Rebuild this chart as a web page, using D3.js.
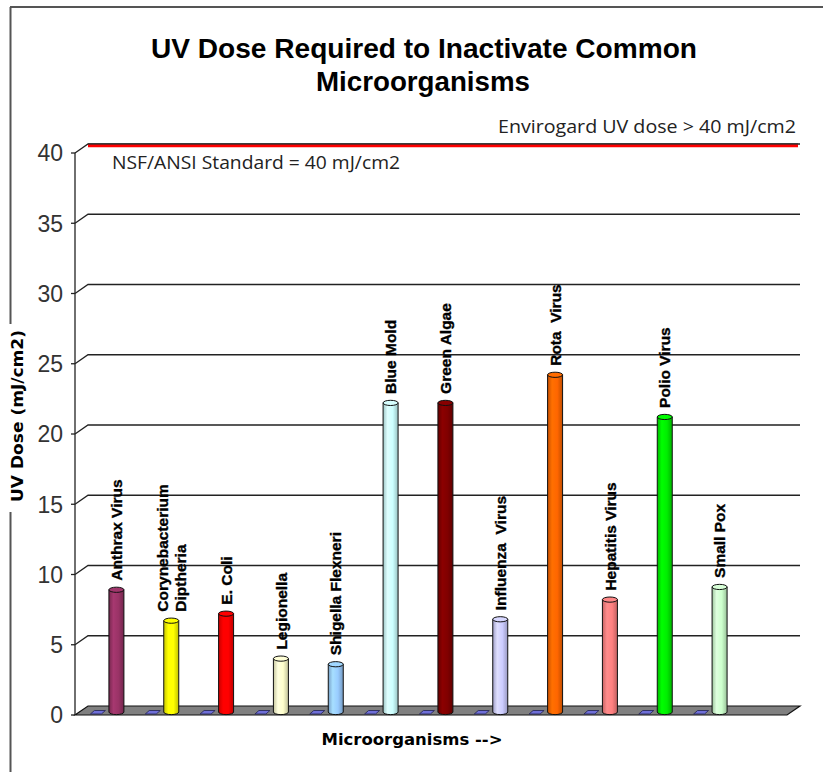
<!DOCTYPE html>
<html><head><meta charset="utf-8">
<script src="https://cdn.jsdelivr.net/npm/d3@7"></script>
<style>body{margin:0;background:#fff}svg{display:block}</style>
</head><body>
<svg id="c" width="823" height="772"></svg>
<script>
const categories = ["Anthrax Virus","Corynebacterium\nDiptheria","E. Coli","Legionella","Shigella Flexneri","Blue Mold","Green Algae","Influenza  Virus","Rota  Virus","Hepatitis Virus","Polio Virus","Small Pox"];
const values = [8.7, 6.5, 7.0, 3.8, 3.4, 22.0, 22.0, 6.6, 24.0, 8.0, 21.0, 8.9];
const baseValues = [0,0,0,0,0,0,0,0,0,0,0,0];
const barColors = ["#993366","#FFFF00","#FF0000","#FFFFCC","#99CCFF","#CCFFFF","#800000","#CCCCFF","#FF6600","#FF8080","#00EE00","#CCFFCC"];
const yTicks = [0,5,10,15,20,25,30,35,40];
const standardValue = 40;
const titleLines = ["UV Dose Required to Inactivate Common","Microorganisms"];
const yTitle = "UV Dose (mJ/cm2)";
const xTitle = "Microorganisms -->";
const noteTop = "Envirogard UV dose > 40 mJ/cm2";
const noteStd = "NSF/ANSI Standard = 40 mJ/cm2";

const svg = d3.select("#c");
const defs = svg.append("defs");
const y = d3.scaleLinear().domain([0,40]).range([715,153]);
const x = d3.scaleBand().domain(categories).range([78,736]).padding(0);
const DX = 13, DY = -9;        // depth offset of back wall
const axisX = 75, rightX = 800;
const barDY = -3, barW = 15;

// frame
svg.append("line").attr("x1",10).attr("y1",7).attr("x2",823).attr("y2",7).attr("stroke","#555").attr("stroke-width",2);
svg.append("line").attr("x1",10.5).attr("y1",7).attr("x2",10.5).attr("y2",772).attr("stroke","#555").attr("stroke-width",2);

// gridlines on back wall + connectors
const g = svg.append("g");
yTicks.filter(t=>t>0).forEach(t=>{
  const yy = y(t);
  g.append("path").attr("d",`M${axisX},${yy}L${axisX+DX},${yy+DY}L${rightX},${yy+DY}`)
   .attr("fill","none").attr("stroke","#222").attr("stroke-width",1.3);
});
// floor
const y0 = y(0);
g.append("path").attr("d",`M${axisX},${y0}L${rightX-DX},${y0}L${rightX},${y0+DY}L${axisX+DX},${y0+DY}Z`)
 .attr("fill","#808080").attr("stroke","#111").attr("stroke-width",1.2);
// front axis
g.append("line").attr("x1",axisX).attr("x2",axisX).attr("y1",y(40)).attr("y2",y0).attr("stroke","#222").attr("stroke-width",1.3);
yTicks.forEach(t=>{
  g.append("line").attr("x1",axisX-4).attr("x2",axisX).attr("y1",y(t)).attr("y2",y(t)).attr("stroke","#222").attr("stroke-width",1.3);
  g.append("text").attr("x",63).attr("y",y(t)).attr("dy","0.36em").attr("text-anchor","end")
   .attr("font-family","Liberation Sans, Arial, sans-serif").attr("font-size",23).attr("fill","#333").text(t);
});

// red standard line
g.append("line").attr("x1",axisX+DX).attr("x2",rightX-2).attr("y1",y(standardValue)+DY+1.8).attr("y2",y(standardValue)+DY+1.8)
 .attr("stroke","#FF0000").attr("stroke-width",3);
g.append("line").attr("x1",axisX+DX).attr("x2",rightX-2).attr("y1",y(standardValue)+DY).attr("y2",y(standardValue)+DY)
 .attr("stroke","#222").attr("stroke-width",1);

// series 1 (zero-height) patches
categories.forEach((c,i)=>{
  const cx = x(c) + x.bandwidth()/2 - 7;
  const yb = y(baseValues[i]) - 1;
  g.append("path").attr("d",`M${cx-8},${yb}L${cx+3},${yb}L${cx+7},${yb-3.5}L${cx-4},${yb-3.5}Z`)
   .attr("fill","#6F6FD8").attr("stroke","#2a2a5a").attr("stroke-width",0.9);
});

// cylinders
categories.forEach((c,i)=>{
  const col = d3.color(barColors[i]);
  const id = "grad"+i;
  const lg = defs.append("linearGradient").attr("id",id).attr("x1","0%").attr("x2","100%");
  lg.append("stop").attr("offset","0%").attr("stop-color",d3.color(col).darker(0.7));
  lg.append("stop").attr("offset","30%").attr("stop-color",d3.color(col).brighter(0.25));
  lg.append("stop").attr("offset","65%").attr("stop-color",col);
  lg.append("stop").attr("offset","100%").attr("stop-color",d3.color(col).darker(0.8));
  const cx = x(c) + x.bandwidth()/2 + 11;
  const yb = y(0) + barDY, yt = y(values[i]) + barDY;
  const rx = barW/2, ry = 2.6;
  g.append("path").attr("d",`M${cx-rx},${yt}L${cx-rx},${yb}A${rx},${ry} 0 0 0 ${cx+rx},${yb}L${cx+rx},${yt}Z`)
   .attr("fill",`url(#${id})`).attr("stroke","#111").attr("stroke-width",1);
  g.append("ellipse").attr("cx",cx).attr("cy",yt).attr("rx",rx).attr("ry",ry)
   .attr("fill",d3.color(col).brighter(0.15)).attr("stroke","#111").attr("stroke-width",1);
  // label
  const lines = c.split("\n");
  const n = lines.length;
  lines.forEach((ln,k)=>{
    const lx = cx + (k - (n-1)/2) * 18.5;
    g.append("text").attr("transform",`translate(${lx},${yt-9}) rotate(-90)`)
     .attr("dy","0.36em").attr("font-family","Liberation Sans, Arial, sans-serif").attr("font-weight","bold")
     .attr("font-size",15.5).attr("fill","#000").attr("stroke","#000").attr("stroke-width",0.35)
     .style("white-space","pre").text(ln);
  });
});

// titles
svg.append("text").attr("x",424).attr("y",58).attr("text-anchor","middle")
 .attr("font-family","Liberation Sans Narrow, Liberation Sans, Arial, sans-serif").attr("font-weight","bold")
 .attr("font-size",27).attr("textLength",546).attr("lengthAdjust","spacingAndGlyphs").text(titleLines[0]);
svg.append("text").attr("x",423).attr("y",91).attr("text-anchor","middle")
 .attr("font-family","Liberation Sans Narrow, Liberation Sans, Arial, sans-serif").attr("font-weight","bold")
 .attr("font-size",27).attr("textLength",214).attr("lengthAdjust","spacingAndGlyphs").text(titleLines[1]);

svg.append("text").attr("x",796).attr("y",133).attr("text-anchor","end")
 .attr("font-family","Open Sans, Liberation Sans, sans-serif").attr("font-size",18).attr("fill","#222")
 .attr("textLength",298).attr("lengthAdjust","spacingAndGlyphs").text(noteTop);
svg.append("text").attr("x",112).attr("y",169)
 .attr("font-family","Open Sans, Liberation Sans, sans-serif").attr("font-size",18).attr("fill","#222")
 .attr("textLength",288).attr("lengthAdjust","spacingAndGlyphs").text(noteStd);

// y title with white background breaking the frame line
svg.append("rect").attr("x",2).attr("y",324).attr("width",24).attr("height",188).attr("fill","#fff");
svg.append("text").attr("transform","translate(23,416) rotate(-90)").attr("text-anchor","middle")
 .attr("font-family","DejaVu Sans, Verdana, sans-serif").attr("font-weight","bold").attr("font-size",15)
 .attr("textLength",172).attr("lengthAdjust","spacingAndGlyphs").text(yTitle);

svg.append("text").attr("x",412).attr("y",745).attr("text-anchor","middle")
 .attr("font-family","DejaVu Sans, Verdana, sans-serif").attr("font-weight","bold").attr("font-size",15)
 .attr("textLength",181).attr("lengthAdjust","spacingAndGlyphs").text(xTitle);
</script>
</body></html>
